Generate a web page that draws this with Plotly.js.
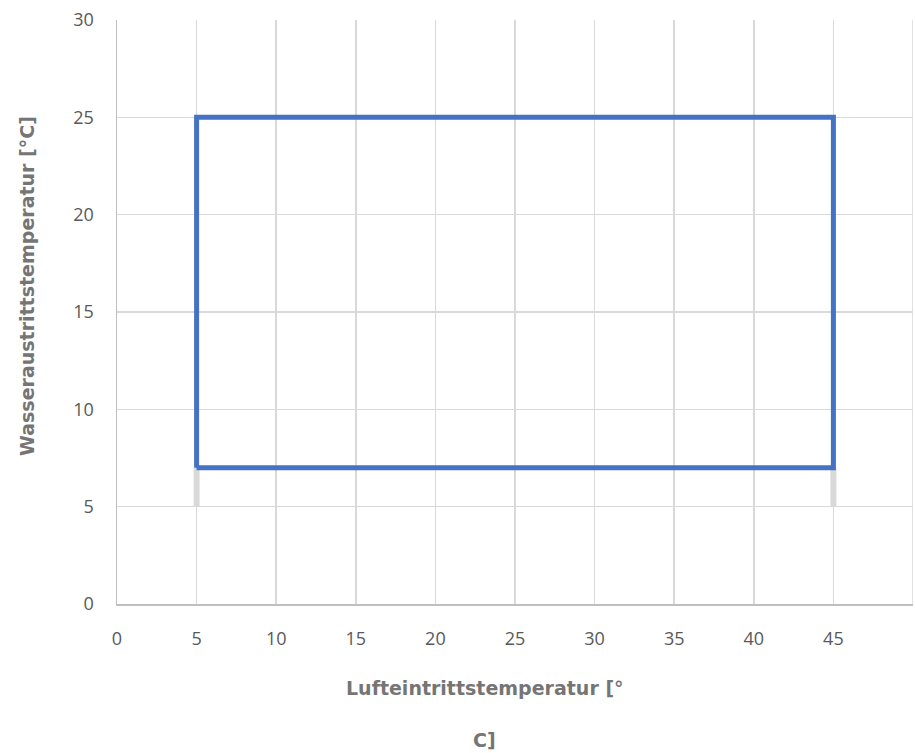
<!DOCTYPE html>
<html>
<head>
<meta charset="utf-8">
<script src="https://cdn.plot.ly/plotly-3.0.1.min.js"></script>
<style>html,body{margin:0;padding:0;background:#fff;}#chart{width:915px;height:753px;}</style>
</head>
<body>
<div id="chart"></div>
<script>
// Operating envelope (blue)
const envelopeX = [5, 5, 45, 45, 5];
const envelopeY = [7, 25, 25, 7, 7];
// Grey lower extensions
const greyX = [5, 5, null, 45, 45];
const greyY = [5, 7, null, 5, 7];
const xTicks = [0, 5, 10, 15, 20, 25, 30, 35, 40, 45];
const yTicks = [0, 5, 10, 15, 20, 25, 30];
const xTitle1 = "Lufteintrittstemperatur [°";
const xTitle2 = "C]";
const yTitle = "Wasseraustrittstemperatur [°C]";

const titleFont = {family: "DejaVu Sans", size: 19, color: "#757575", weight: 700};
const tickFont = {family: "Open Sans", size: 18, color: "#595959"};

const data = [
  {x: greyX, y: greyY, mode: "lines", line: {color: "#d9d9d9", width: 6}, connectgaps: false, hoverinfo: "skip"},
  {x: envelopeX, y: envelopeY, mode: "lines", line: {color: "#4472c4", width: 5}}
];

const layout = {
  width: 915, height: 753,
  margin: {l: 117, r: 2, t: 20, b: 149},
  paper_bgcolor: "#fff", plot_bgcolor: "#fff",
  showlegend: false,
  font: {family: "Open Sans", color: "#595959", size: 18},
  xaxis: {
    range: [0, 50], tickvals: xTicks, ticktext: xTicks.map(String),
    showgrid: true, gridcolor: "#d9d9d9", gridwidth: 1.5,
    showline: true, linecolor: "#bfbfbf", linewidth: 1.5, mirror: false,
    zeroline: false, ticks: "", ticklen: 0, ticklabelstandoff: 18,
    tickfont: tickFont
  },
  yaxis: {
    range: [0, 30], tickvals: yTicks, ticktext: yTicks.map(String),
    showgrid: true, gridcolor: "#d9d9d9", gridwidth: 1.5,
    showline: true, linecolor: "#bfbfbf", linewidth: 1.5,
    zeroline: false, ticks: "", ticklabelstandoff: 18,
    tickfont: tickFont
  },
  shapes: [
    {type: "line", xref: "x", yref: "paper", x0: 50, x1: 50, y0: 0, y1: 1, line: {color: "#d9d9d9", width: 1.5}}
  ],
  annotations: [
    {text: xTitle1, xref: "paper", yref: "paper", x: 0.4623, y: -0.1438, xanchor: "center", yanchor: "middle", showarrow: false, font: titleFont},
    {text: xTitle2, xref: "paper", yref: "paper", x: 0.4623, y: -0.2329, xanchor: "center", yanchor: "middle", showarrow: false, font: titleFont},
    {text: yTitle, xref: "paper", yref: "paper", x: -0.113, y: 0.5445, xanchor: "center", yanchor: "middle", textangle: -90, showarrow: false, font: titleFont}
  ]
};

Plotly.newPlot("chart", data, layout, {displayModeBar: false, staticPlot: true});
</script>
</body>
</html>
